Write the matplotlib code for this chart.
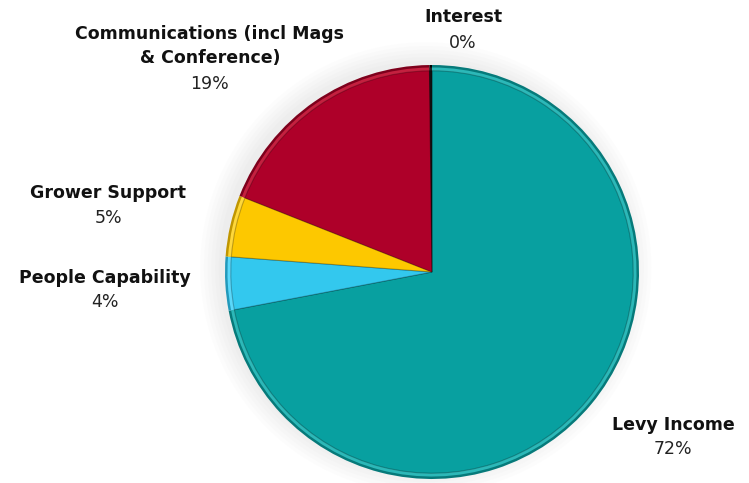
import matplotlib
matplotlib.use('Agg')
import matplotlib.pyplot as plt
from matplotlib.patches import Circle

plt.rcParams['font.family'] = ['DejaVu Sans']

# 数据
labels = ['Levy Income', 'People Capability', 'Grower Support',
          'Communications (incl Mags\n& Conference)', 'Interest']
values = [72.0, 4.2, 4.8, 18.8, 0.2]
pct_text = ['72%', '4%', '5%', '19%', '0%']
colors = ['#08a0a0', '#33c8ee', '#fdc800', '#ae0029', '#111111']
edge_colors = ['#067a7a', '#2299bb', '#c09600', '#7e001c', '#000000']
light_colors = ['#2cb8b8', '#5ad8fa', '#ffd83a', '#c4203f', '#222222']

W, H = 749, 483
fig = plt.figure(figsize=(W / 100, H / 100), dpi=100)

# 饼图区域 (像素)
cx, cy, r = 432, 272, 207
ax = fig.add_axes([(cx - r) / W, (H - cy - r) / H, 2 * r / W, 2 * r / H])
ax.axis('off')

# 阴影
for i in range(6):
    ax.add_patch(Circle((-0.03, 0.02), 1.09 - i * 0.018,
                        color='#999999', alpha=0.025, lw=0, zorder=0,
                        clip_on=False))

# 外圈 (深色)
ax.pie(values, colors=edge_colors, startangle=90, counterclock=False,
       radius=1.0, wedgeprops=dict(linewidth=0))
# 高光圈
ax.pie(values, colors=light_colors, startangle=90, counterclock=False,
       radius=0.988, wedgeprops=dict(linewidth=0))
# 主色
ax.pie(values, colors=colors, startangle=90, counterclock=False,
       radius=0.972, wedgeprops=dict(edgecolor='#00000040', linewidth=0.8))
for p in ax.patches:
    p.set_clip_on(False)
ax.set_xlim(-1.0, 1.0)
ax.set_ylim(-1.0, 1.0)
ax.set_aspect('equal')

# 标签位置 (像素)
label_pos = [(673, 425), (105, 278), (108, 193), (210, 46), (463, 17)]
pct_pos = [(673, 449), (105, 302), (108, 218), (210, 84), (463, 43)]

for lab, pct, (lx, ly), (px, py) in zip(labels, pct_text, label_pos, pct_pos):
    fig.text(lx / W, 1 - ly / H, lab, ha='center', va='center',
             fontsize=12.5, fontweight='bold', color='#111111', linespacing=1.45)
    fig.text(px / W, 1 - py / H, pct, ha='center', va='center',
             fontsize=12.5, color='#222222')

plt.savefig('out.png', dpi=100)
